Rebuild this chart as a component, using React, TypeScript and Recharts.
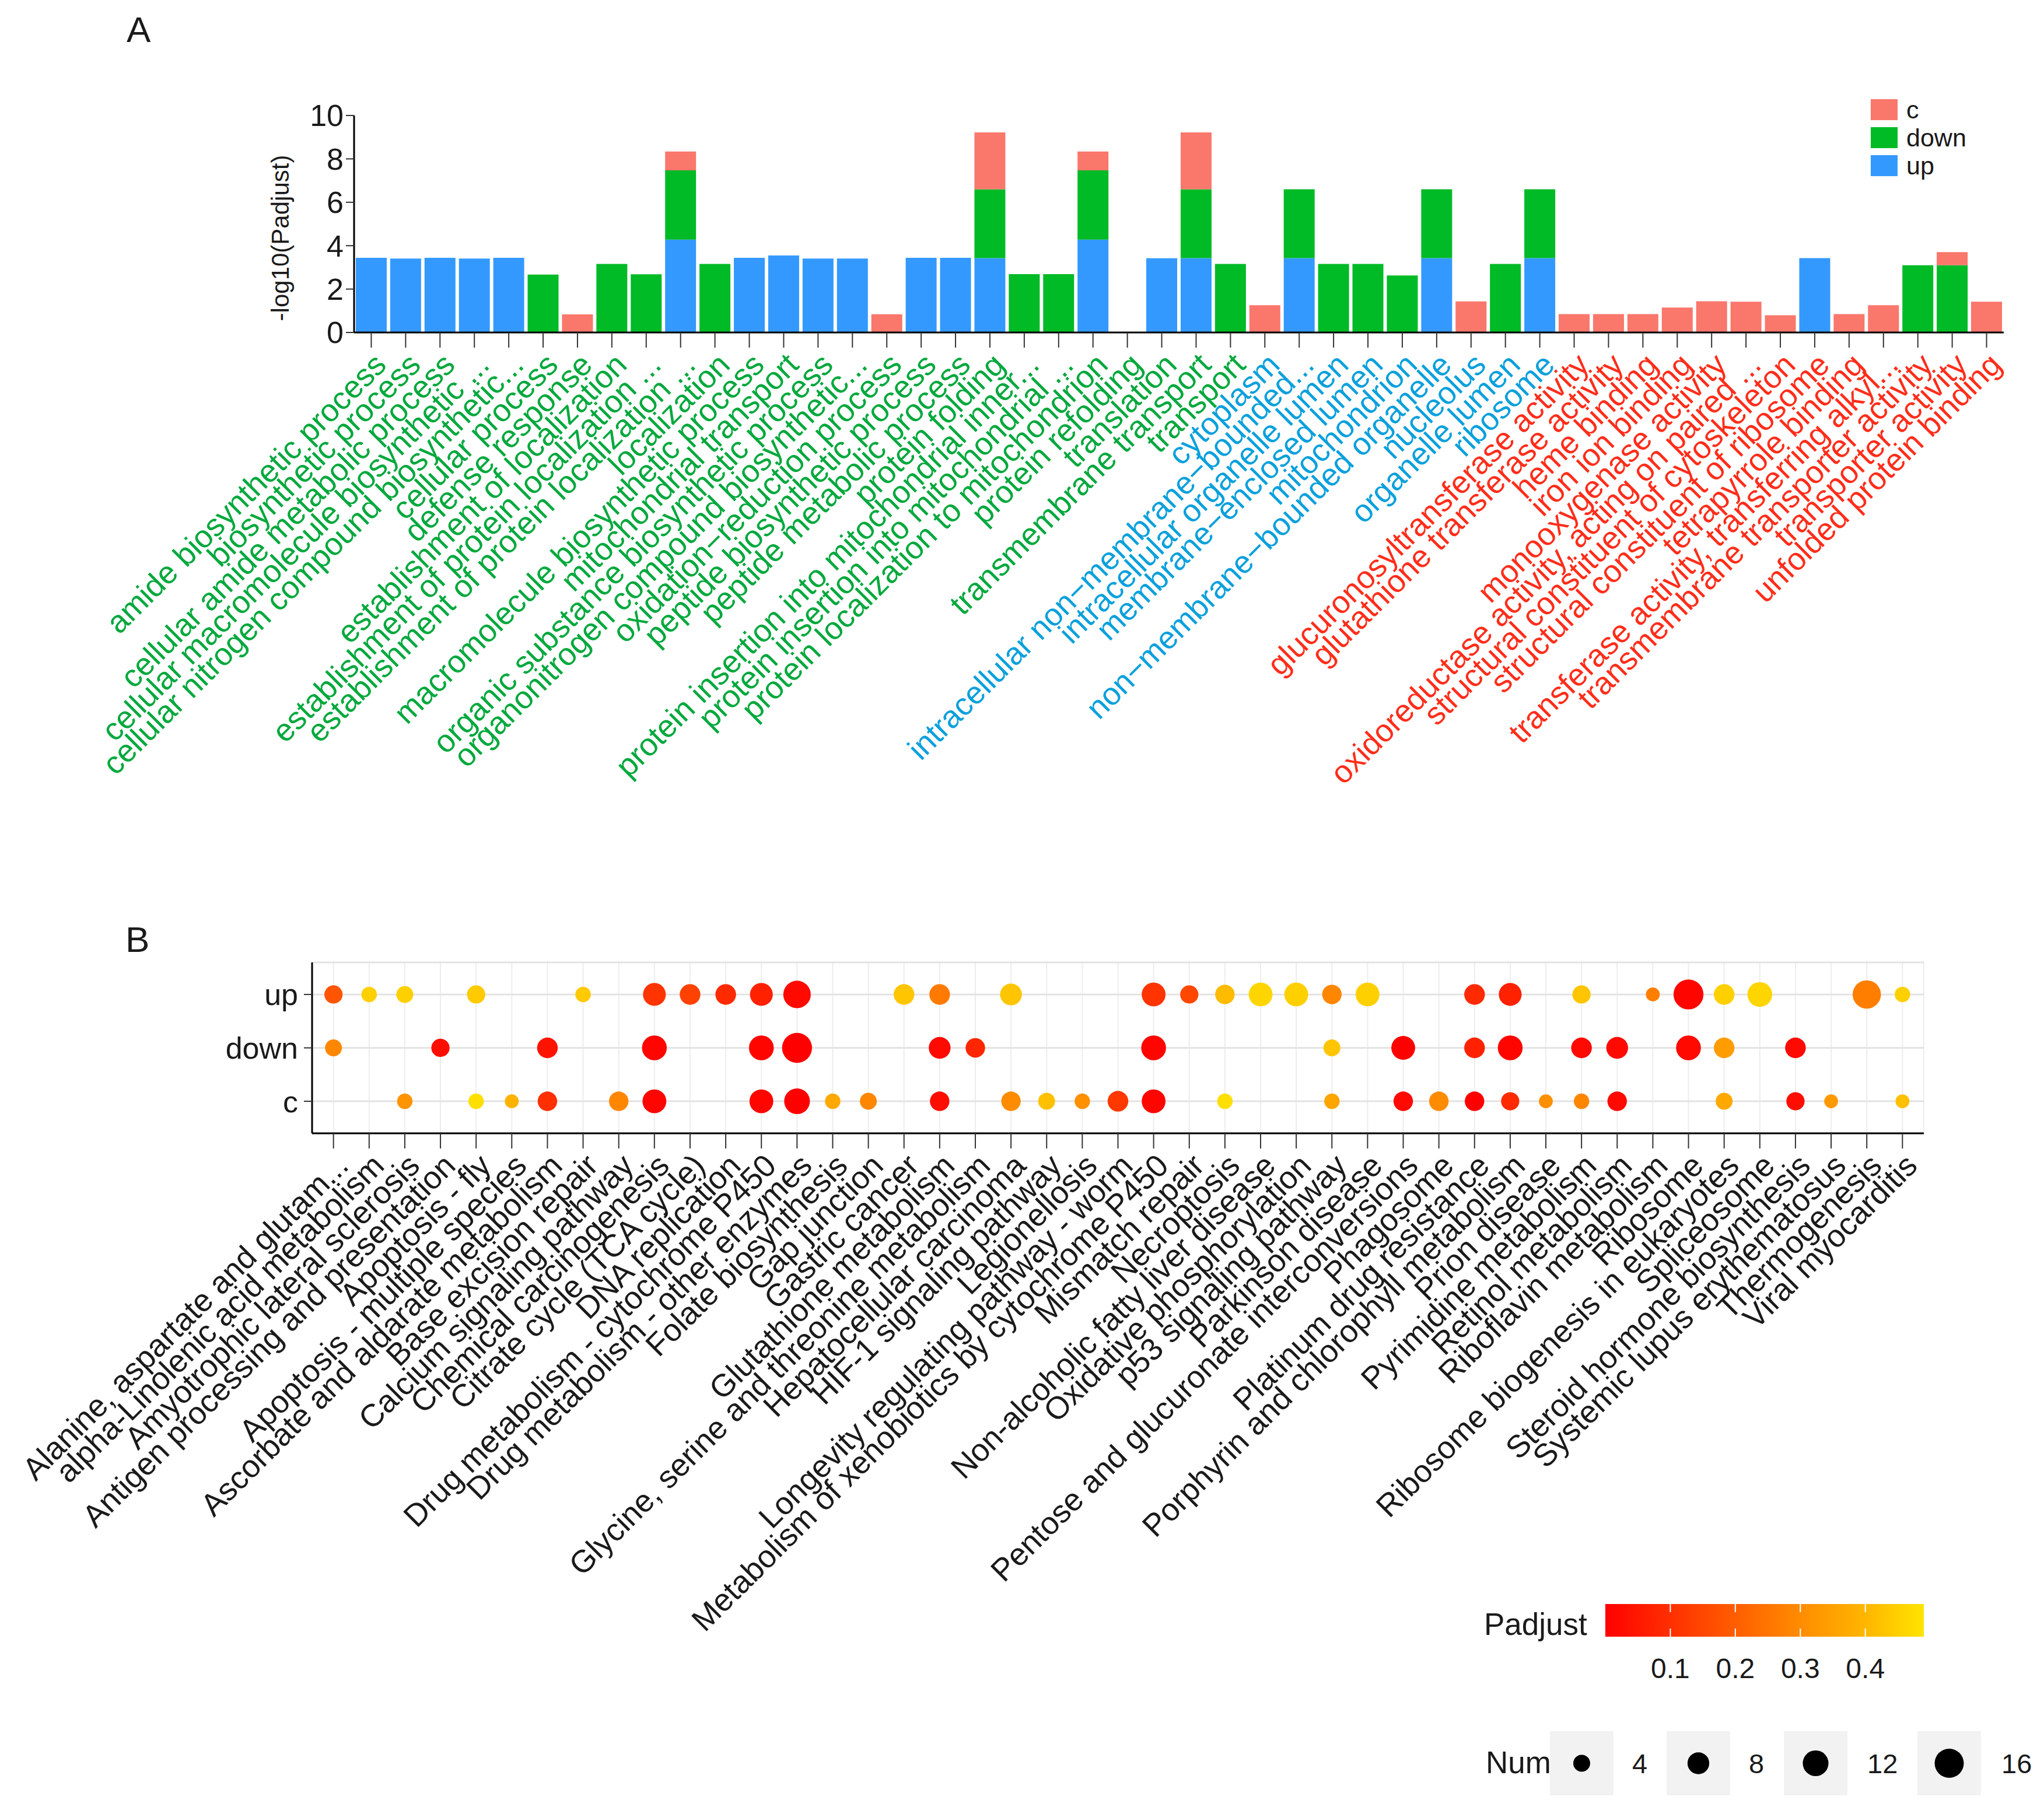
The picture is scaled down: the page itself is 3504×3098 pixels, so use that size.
import React from "react";
import {
  Bar,
  BarChart,
  CartesianGrid,
  Scatter,
  ScatterChart,
  XAxis,
  YAxis,
} from "recharts";

const FONT = "'Liberation Sans', Arial, Helvetica, sans-serif";
const INK = "#1a1a1a";

// ---------- panel A: GO enrichment ----------
const bpTerms = [
  "amide biosynthetic process",
  "biosynthetic process",
  "cellular amide metabolic process",
  "cellular macromolecule biosynthetic ...",
  "cellular nitrogen compound biosynthetic...",
  "cellular process",
  "defense response",
  "establishment of localization",
  "establishment of protein localization ...",
  "establishment of protein localization ...",
  "localization",
  "macromolecule biosynthetic process",
  "mitochondrial transport",
  "organic substance biosynthetic process",
  "organonitrogen compound biosynthetic...",
  "oxidation\u2212reduction process",
  "peptide biosynthetic process",
  "peptide metabolic process",
  "protein folding",
  "protein insertion into mitochondrial inner...",
  "protein insertion into mitochondrial ...",
  "protein localization to mitochondrion",
  "protein refolding",
  "translation",
  "transmembrane transport",
  "transport",
];
const ccTerms = [
  "cytoplasm",
  "intracellular non\u2212membrane\u2212bounded...",
  "intracellular organelle lumen",
  "membrane\u2212enclosed lumen",
  "mitochondrion",
  "non\u2212membrane\u2212bounded organelle",
  "nucleolus",
  "organelle lumen",
  "ribosome",
];
const mfTerms = [
  "glucuronosyltransferase activity",
  "glutathione transferase activity",
  "heme binding",
  "iron ion binding",
  "monooxygenase activity",
  "oxidoreductase activity, acting on paired ...",
  "structural constituent of cytoskeleton",
  "structural constituent of ribosome",
  "tetrapyrrole binding",
  "transferase activity, transferring alkyl...",
  "transmembrane transporter activity",
  "transporter activity",
  "unfolded protein binding",
];

const goTerms = [...bpTerms, ...ccTerms, ...mfTerms];
const goGroup = [
  ...bpTerms.map(() => "BP"),
  ...ccTerms.map(() => "CC"),
  ...mfTerms.map(() => "MF"),
];

// -log10(Padjust) per regulation set (stacked): BP, CC, MF
const upVals = [
  3.44, 3.41, 3.44, 3.41, 3.44, 0, 0, 0, 0, 4.28, 0, 3.44, 3.55, 3.41, 3.41, 0,
  3.44, 3.44, 3.43, 0, 0, 4.28, 0, 3.42, 3.43, 0,
  0, 3.43, 0, 0, 0, 3.43, 0, 0, 3.43,
  0, 0, 0, 0, 0, 0, 0, 3.43, 0, 0, 0, 0, 0,
];
const downVals = [
  0, 0, 0, 0, 0, 2.67, 0, 3.16, 2.68, 3.19, 3.16, 0, 0, 0, 0, 0, 0, 0, 3.17,
  2.69, 2.69, 3.19, 0, 0, 3.17, 3.16,
  0, 3.17, 3.16, 3.16, 2.63, 3.17, 0, 3.16, 3.17,
  0, 0, 0, 0, 0, 0, 0, 0, 0, 0, 3.1, 3.1, 0,
];
const cVals = [
  0, 0, 0, 0, 0, 0, 0.83, 0, 0, 0.87, 0, 0, 0, 0, 0, 0.84, 0, 0, 2.62, 0, 0,
  0.87, 0, 0, 2.62, 0,
  1.26, 0, 0, 0, 0, 0, 1.43, 0, 0,
  0.85, 0.85, 0.85, 1.15, 1.44, 1.42, 0.79, 0, 0.85, 1.26, 0, 0.6, 1.42,
];
const yTicksA = [0, 2, 4, 6, 8, 10];

// ---------- panel B: KEGG dot plot ----------
const keggTerms = [
  "Alanine, aspartate and glutam...",
  "alpha-Linolenic acid metabolism",
  "Amyotrophic lateral sclerosis",
  "Antigen processing and presentation",
  "Apoptosis - fly",
  "Apoptosis - multiple species",
  "Ascorbate and aldarate metabolism",
  "Base excision repair",
  "Calcium signaling pathway",
  "Chemical carcinogenesis",
  "Citrate cycle (TCA cycle)",
  "DNA replication",
  "Drug metabolism - cytochrome P450",
  "Drug metabolism - other enzymes",
  "Folate biosynthesis",
  "Gap junction",
  "Gastric cancer",
  "Glutathione metabolism",
  "Glycine, serine and threonine metabolism",
  "Hepatocellular carcinoma",
  "HIF-1 signaling pathway",
  "Legionellosis",
  "Longevity regulating pathway - worm",
  "Metabolism of xenobiotics by cytochrome P450",
  "Mismatch repair",
  "Necroptosis",
  "Non-alcoholic fatty liver disease",
  "Oxidative phosphorylation",
  "p53 signaling pathway",
  "Parkinson disease",
  "Pentose and glucuronate interconversions",
  "Phagosome",
  "Platinum drug resistance",
  "Porphyrin and chlorophyll metabolism",
  "Prion disease",
  "Pyrimidine metabolism",
  "Retinol metabolism",
  "Riboflavin metabolism",
  "Ribosome",
  "Ribosome biogenesis in eukaryotes",
  "Spliceosome",
  "Steroid hormone biosynthesis",
  "Systemic lupus erythematosus",
  "Thermogenesis",
  "Viral myocarditis",
];
const rowNames = ["c", "down", "up"];

const upNum = [
  5, 3, 4, null, 5, null, null, 3, null, 9,
  7, 7, 9, 14, null, null, 7, 7, null, 8,
  null, null, null, 10, 5, 6, 10, 10, 6, 10,
  null, null, 7, 9, null, 5, null, 2, 17, 7,
  11, null, null, 15, 3,
];
const upPadj = [
  0.18, 0.45, 0.45, null, 0.44, null, null, 0.44, null, 0.11,
  0.14, 0.09, 0.07, 0.02, null, null, 0.43, 0.26, null, 0.43,
  null, null, null, 0.11, 0.15, 0.41, 0.46, 0.45, 0.29, 0.45,
  null, null, 0.09, 0.07, null, 0.43, null, 0.27, 0.01, 0.45,
  0.46, null, null, 0.27, 0.45,
];
const downNum = [
  4, null, null, 5, null, null, 7, null, null, 11,
  null, null, 11, 17, null, null, null, 8, 6, null,
  null, null, null, 11, null, null, null, null, 4, null,
  10, null, 7, 11, null, 7, 8, null, 11, 7,
  null, 7, null, null, null,
];
const downPadj = [
  0.29, null, null, 0.03, null, null, 0.04, null, null, 0.01,
  null, null, 0.01, 0.0, null, null, null, 0.02, 0.08, null,
  null, null, null, 0.01, null, null, null, null, 0.43, null,
  0.0, null, 0.07, 0.01, null, 0.02, 0.02, null, 0.02, 0.34,
  null, 0.02, null, null, null,
];
const cNum = [
  null, null, 3, null, 3, 2, 6, null, 6, 10,
  null, null, 10, 12, 3, 4, null, 6, null, 6,
  4, 3, 7, 10, null, 3, null, null, 3, null,
  6, 6, 6, 5, 2, 3, 6, null, null, 4,
  null, 5, 2, null, 2,
];
const cPadj = [
  null, null, 0.32, null, 0.48, 0.39, 0.1, null, 0.29, 0.01,
  null, null, 0.01, 0.0, 0.37, 0.29, null, 0.03, null, 0.3,
  0.42, 0.31, 0.12, 0.01, null, 0.48, null, null, 0.36, null,
  0.02, 0.3, 0.0, 0.09, 0.31, 0.29, 0.02, null, null, 0.37,
  null, 0.03, 0.33, null, 0.42,
];

const padjTicks = [0.1, 0.2, 0.3, 0.4];
const numTicks = [4, 8, 12, 16];

// ---------- helpers ----------
const ontColor: Record<string, string> = {
  BP: "#00A83C",
  CC: "#0AA0DC",
  MF: "#FF2D1A",
};
const barColors = { up: "#3399FF", down: "#00BA26", c: "#FA776C" };

const PADJ_MAX = 0.49;
const colorStops: [number, number[]][] = [
  [0, [255, 0, 0]],
  [0.1, [255, 47, 0]],
  [0.2, [255, 94, 0]],
  [0.3, [255, 140, 0]],
  [0.4, [255, 182, 0]],
  [0.49, [255, 228, 0]],
];
function padjColor(v: number) {
  for (let i = 1; i < colorStops.length; i++) {
    const [v1, c1] = colorStops[i];
    const [v0, c0] = colorStops[i - 1];
    if (v <= v1 || i === colorStops.length - 1) {
      const t = Math.max(0, Math.min(1, (v - v0) / (v1 - v0)));
      const c = c0.map((x, k) => Math.round(x + (c1[k] - x) * t));
      return `rgb(${c[0]},${c[1]},${c[2]})`;
    }
  }
  return "red";
}
// point area grows linearly with Num
function dotRadius(n: number) {
  const area = 660 + 108.5 * (n - 4);
  return Math.sqrt(area / Math.PI);
}

const goData = goTerms.map((t, i) => ({
  idx: i,
  up: upVals[i],
  down: downVals[i],
  c: cVals[i],
}));

function rowPoints(nums: (number | null)[], padjs: (number | null)[], row: number) {
  const out: { col: number; row: number; num: number; padj: number }[] = [];
  nums.forEach((n, i) => {
    if (n != null) out.push({ col: i + 1, row, num: n, padj: padjs[i] as number });
  });
  return out;
}
const upPoints = rowPoints(upNum, upPadj, 3);
const downPoints = rowPoints(downNum, downPadj, 2);
const cPoints = rowPoints(cNum, cPadj, 1);

const GoTick = (props: any) => {
  const { x, y, payload } = props;
  const i = payload.value;
  return (
    <text
      x={x}
      y={y}
      dy="0.75em"
      transform={`rotate(-45 ${x} ${y})`}
      textAnchor="end"
      fontSize={54}
      fontFamily={FONT}
      fill={ontColor[goGroup[i]]}
    >
      {goTerms[i]}
    </text>
  );
};

const KeggTick = (props: any) => {
  const { x, y, payload } = props;
  const label = keggTerms[payload.value - 1];
  return (
    <text
      x={x}
      y={y}
      dy="0.75em"
      transform={`rotate(-45 ${x} ${y})`}
      textAnchor="end"
      fontSize={54}
      fontFamily={FONT}
      fill={INK}
    >
      {label}
    </text>
  );
};

const Dot = (p: any) => (
  <circle
    cx={p.cx}
    cy={p.cy}
    r={dotRadius(p.payload.num)}
    fill={padjColor(p.payload.padj)}
  />
);

export default function App() {
  const axisLine = { stroke: "#000", strokeWidth: 3 };
  const tickLine = { stroke: "#333", strokeWidth: 2 };
  const cbX = 2752;
  const cbW = 546;
  const cbY = 2750;
  const cbH = 56;
  const numBoxX = [2657, 2857, 3058, 3287];
  const numLabelX = [2798, 2998, 3201, 3431];

  return (
    <div
      style={{
        position: "absolute",
        left: 0,
        top: 0,
        width: 3504,
        height: 3098,
        background: "#fff",
        fontFamily: FONT,
        overflow: "hidden",
      }}
    >
      <div style={{ position: "absolute", left: 0, top: 0 }}>
        <BarChart
          width={3504}
          height={1450}
          data={goData}
          margin={{ top: 198, right: 69, bottom: 0, left: 0 }}
          barCategoryGap="5%"
        >
          <XAxis
            dataKey="idx"
            type="category"
            interval={0}
            height={880}
            tickSize={26}
            tickMargin={4}
            axisLine={axisLine}
            tickLine={tickLine}
            tick={<GoTick />}
          />
          <YAxis
            type="number"
            domain={[0, 10]}
            ticks={yTicksA}
            width={607}
            tickSize={14}
            tickMargin={4}
            axisLine={axisLine}
            tickLine={tickLine}
            tick={{ fontSize: 52, fill: INK, fontFamily: FONT }}
          />
          <Bar dataKey="up" stackId="s" fill={barColors.up} isAnimationActive={false} />
          <Bar dataKey="down" stackId="s" fill={barColors.down} isAnimationActive={false} />
          <Bar dataKey="c" stackId="s" fill={barColors.c} isAnimationActive={false} />
        </BarChart>
      </div>

      <div style={{ position: "absolute", left: 0, top: 1500 }}>
        <ScatterChart
          width={3504}
          height={1598}
          margin={{ top: 150, right: 206, bottom: 0, left: 0 }}
        >
          <CartesianGrid horizontal={false} stroke="#EDEDED" strokeWidth={2} />
          <CartesianGrid vertical={false} stroke="#E3E3E3" strokeWidth={3} />
          <XAxis
            dataKey="col"
            type="number"
            domain={[0.4, 45.6]}
            ticks={keggTerms.map((_, i) => i + 1)}
            interval={0}
            height={1155}
            tickSize={26}
            tickMargin={4}
            axisLine={axisLine}
            tickLine={tickLine}
            tick={<KeggTick />}
          />
          <YAxis
            dataKey="row"
            type="number"
            domain={[0.4, 3.6]}
            ticks={[1, 2, 3]}
            interval={0}
            width={535}
            tickSize={14}
            tickMargin={10}
            axisLine={axisLine}
            tickLine={tickLine}
            tickFormatter={(v: number) => rowNames[v - 1]}
            tick={{ fontSize: 52, fill: INK, fontFamily: FONT }}
          />
          <Scatter data={upPoints} shape={<Dot />} isAnimationActive={false} />
          <Scatter data={downPoints} shape={<Dot />} isAnimationActive={false} />
          <Scatter data={cPoints} shape={<Dot />} isAnimationActive={false} />
        </ScatterChart>
      </div>

      <svg
        width={3504}
        height={3098}
        style={{ position: "absolute", left: 0, top: 0, pointerEvents: "none" }}
        fontFamily={FONT}
      >
        <defs>
          <linearGradient id="padjGrad" x1="0" x2="1" y1="0" y2="0">
            {colorStops.map(([v, c]) => (
              <stop
                key={v}
                offset={v / PADJ_MAX}
                stopColor={`rgb(${c[0]},${c[1]},${c[2]})`}
              />
            ))}
          </linearGradient>
        </defs>

        <text x={217} y={72} fontSize={62} fill={INK}>A</text>
        <text x={215} y={1632} fontSize={62} fill={INK}>B</text>

        <text
          x={480}
          y={408}
          fontSize={42}
          fill={INK}
          textAnchor="middle"
          dominantBaseline="central"
          transform="rotate(-90 480 408)"
        >
          -log10(Padjust)
        </text>

        {(["c", "down", "up"] as const).map((k, i) => (
          <g key={k}>
            <rect x={3207} y={170 + i * 48} width={46} height={36} fill={barColors[k]} />
            <text
              x={3268}
              y={188 + i * 48}
              fontSize={43}
              fill={INK}
              dominantBaseline="central"
            >
              {k}
            </text>
          </g>
        ))}

        <text x={2544} y={2803} fontSize={53} fill={INK}>Padjust</text>
        <rect x={cbX} y={cbY} width={cbW} height={cbH} fill="url(#padjGrad)" />
        {padjTicks.map((t) => {
          const tx = cbX + (t / PADJ_MAX) * cbW;
          return (
            <g key={t}>
              <line x1={tx} x2={tx} y1={cbY} y2={cbY + 14} stroke="#fff" strokeWidth={2} />
              <line x1={tx} x2={tx} y1={cbY + cbH - 14} y2={cbY + cbH} stroke="#fff" strokeWidth={2} />
              <text x={tx} y={2877} fontSize={48} fill={INK} textAnchor="middle">
                {t.toFixed(1)}
              </text>
            </g>
          );
        })}

        <text x={2547} y={3040} fontSize={53} fill={INK}>Num</text>
        {numTicks.map((n, i) => (
          <g key={n}>
            <rect x={numBoxX[i]} y={2968} width={109} height={110} fill="#F2F2F2" />
            <circle cx={numBoxX[i] + 54.5} cy={3023} r={dotRadius(n)} fill="#000" />
            <text x={numLabelX[i]} y={3040} fontSize={47} fill={INK}>{n}</text>
          </g>
        ))}
      </svg>
    </div>
  );
}
